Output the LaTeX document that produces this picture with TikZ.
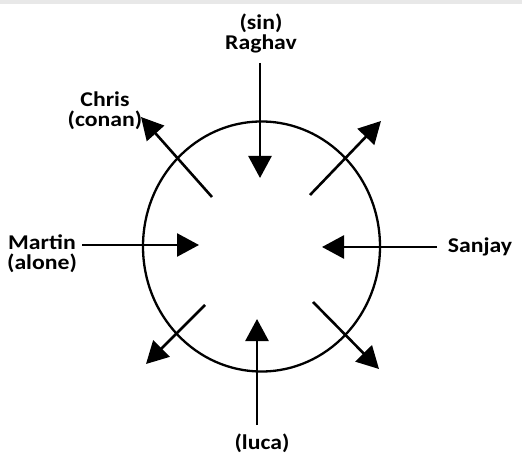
\documentclass[tikz,border=0pt]{standalone}
\usepackage{fontspec}
\setmainfont{Carlito}
\newfontfamily\lblfont[FakeStretch=1.13]{Carlito}
\usetikzlibrary{arrows.meta,shapes.geometric}
\begin{document}
\begin{tikzpicture}[x=1pt,y=-1pt,
  lbl/.style={font=\lblfont\bfseries\fontsize{21}{20}\selectfont, inner sep=0pt, anchor=center, align=center},
  arr/.style={line width=2.6pt, -{Triangle[length=22pt,width=23pt]}},
  ring/.style={draw, line width=2.3pt, ellipse, minimum width=237pt, minimum height=250pt, inner sep=0pt}]
\useasboundingbox (0,0) rectangle (522,454);
\fill[gray!18] (0,0) rectangle (522,4);
\node[ring] (ring) at (261.5,246.5) {};
% labels
\node[lbl] (raghav) at (261,33) {(sin)\\Raghav};
\node[lbl] (chris) at (105,111) {Chris\\(conan)};
\node[lbl] (martin) at (42,254) {Martin\\(alone)};
\node[lbl] (sanjay) at (480,247) {Sanjay};
\node[lbl] (luca) at (262,443) {(luca)};
% arrow ends
\coordinate (rS) at (260,63);  \coordinate (rT) at (260,178);
\coordinate (cS) at (212,197); \coordinate (cT) at (141,117);
\coordinate (neS) at (310,195); \coordinate (neT) at (381,121);
\coordinate (mS) at (82,245);  \coordinate (mT) at (199,245);
\coordinate (sS) at (437,247); \coordinate (sT) at (322,247);
\coordinate (swS) at (205,305); \coordinate (swT) at (146,364);
\coordinate (seS) at (313,302); \coordinate (seT) at (379,369);
\coordinate (lS) at (257,425); \coordinate (lT) at (257,319);
\draw[arr] (rS) -- (rT);
\draw[arr] (cS) -- (cT);
\draw[arr] (neS) -- (neT);
\draw[arr] (mS) -- (mT);
\draw[arr] (sS) -- (sT);
\draw[arr] (swS) -- (swT);
\draw[arr] (seS) -- (seT);
\draw[arr] (lS) -- (lT);
\end{tikzpicture}
\end{document}
